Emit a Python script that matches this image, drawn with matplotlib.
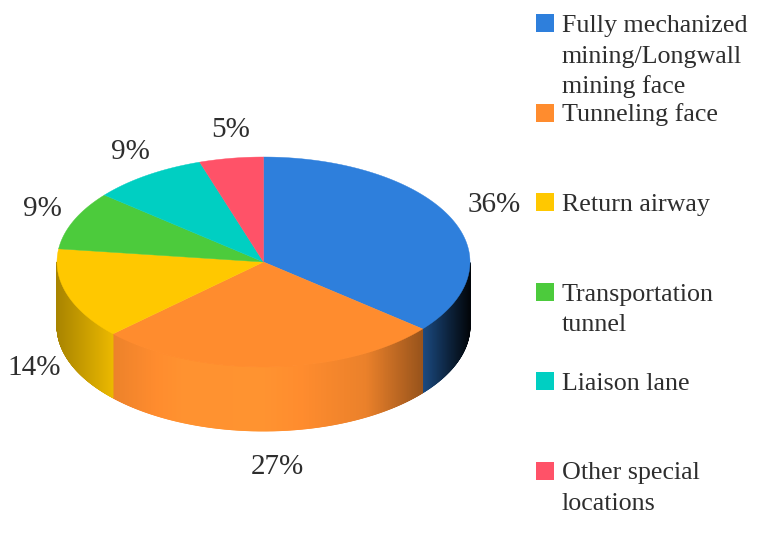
import matplotlib
matplotlib.use("Agg")
import matplotlib.pyplot as plt
import numpy as np
from matplotlib.collections import PolyCollection
from matplotlib.patches import Polygon, Rectangle
from matplotlib.colors import to_rgb

labels = ["Fully mechanized\nmining/Longwall\nmining face", "Tunneling face",
          "Return airway", "Transportation\ntunnel", "Liaison lane",
          "Other special\nlocations"]
shares = [36, 27, 14, 9, 9, 5]
pct_labels = ["36%", "27%", "14%", "9%", "9%", "5%"]
colors = ["#2e7fdc", "#ff8c2e", "#ffc800", "#4ccb3c", "#00cfc2", "#ff5268"]

plt.rcParams['font.family'] = ['Liberation Serif', 'DejaVu Serif']
txt_color = "#2e2e2e"

fig = plt.figure(figsize=(7.62, 5.49), dpi=100)
ax = fig.add_axes([0, 0, 1, 1])
ax.set_xlim(0, 762)
ax.set_ylim(549, 0)
ax.axis("off")

# pie geometry in pixels
cx, cy = 263.5, 262
rx, ry = 206.5, 105
depth = 64


def shade(u):
    # horizontal light falloff on the side wall
    up = [-1.0, -0.85, -0.72, -0.4, 0.0, 0.3, 0.5, 0.77, 0.9, 1.0]
    fp = [0.66, 0.8, 0.93, 1.04, 1.05, 0.97, 0.92, 0.6, 0.28, 0.05]
    return np.interp(u, up, fp)


def pt(th):
    return cx + rx * np.cos(th), cy - ry * np.sin(th)


frac = np.array(shares) / float(sum(shares))
ends = np.pi / 2 - 2 * np.pi * np.cumsum(frac)
starts = np.concatenate([[np.pi / 2], ends[:-1]])

# side walls (front half only)
for i in range(len(shares)):
    a0, a1 = ends[i], starts[i]
    ths = np.linspace(a0, a1, 400)
    s = np.sin(ths)
    ths = ths[s < 0]
    if len(ths) < 2:
        continue
    base = np.array(to_rgb(colors[i]))
    polys, fcs = [], []
    for k in range(len(ths) - 1):
        x0, y0 = pt(ths[k])
        x1, y1 = pt(ths[k + 1])
        polys.append([(x0, y0), (x1, y1), (x1, y1 + depth), (x0, y0 + depth)])
        u = np.cos(0.5 * (ths[k] + ths[k + 1]))
        fcs.append(np.clip(base * shade(u), 0, 1))
    pc = PolyCollection(polys, facecolors=fcs, edgecolors=fcs, linewidths=0.6)
    ax.add_collection(pc)

# top faces
for i in range(len(shares)):
    ths = np.linspace(starts[i], ends[i], 200)
    xs, ys = pt(ths)
    verts = [(cx, cy)] + list(zip(xs, ys))
    ax.add_patch(Polygon(verts, closed=True, facecolor=colors[i],
                         edgecolor=colors[i], linewidth=0.3))

# percentage labels
for i in range(len(shares)):
    mid = 0.5 * (starts[i] + ends[i])
    lx = cx + 6 + 1.2 * rx * np.cos(mid)
    ly = cy - 1.27 * ry * np.sin(mid)
    if np.sin(mid) < 0:
        ly += depth + 8 * np.sin(mid) ** 2
    ax.text(lx, ly, pct_labels[i], ha="center", va="center",
            fontsize=21, color=txt_color)

# legend
for i in range(len(labels)):
    yc = 23 + 89.5 * i
    ax.add_patch(Rectangle((536, yc - 9), 18, 18, facecolor=colors[i],
                           edgecolor="none"))
    for j, line in enumerate(labels[i].split("\n")):
        ax.text(562, yc + 9 + 30.5 * j, line, ha="left", va="baseline",
                fontsize=18.7, color=txt_color)

fig.savefig("out.png", dpi=100)
